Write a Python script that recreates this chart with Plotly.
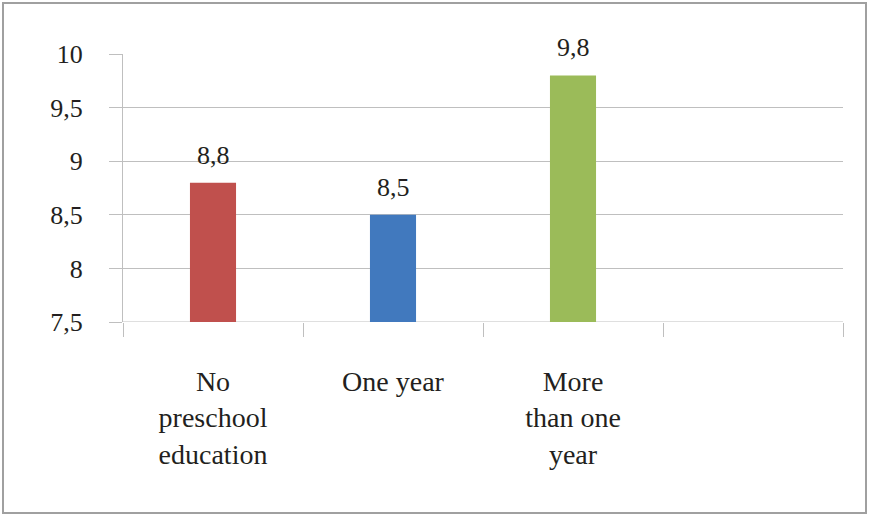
import plotly.graph_objects as go

categories = ["No<br>preschool<br>education", "One year", "More<br>than one<br>year", " "]
values = [8.8, 8.5, 9.8, None]
labels = ["8,8", "8,5", "9,8", ""]
bar_colors = ["#C0504D", "#4179BE", "#9BBB59", "#FFFFFF"]
y_ticks = [7.5, 8, 8.5, 9, 9.5, 10]
y_ticktext = ["7,5", "8", "8,5", "9", "9,5", "10"]

FONT = "'Liberation Serif', 'Times New Roman', 'DejaVu Serif', serif"
TXT = "#231F20"
GRID = "#BFBFBF"

fig = go.Figure(go.Bar(
    x=categories, y=values,
    marker=dict(color=bar_colors, line=dict(width=0)),
    width=0.256, hoverinfo="skip",
))

for c, v, t in zip(categories, values, labels):
    if v is None:
        continue
    fig.add_annotation(x=c, y=v, text=t, showarrow=False, yanchor="bottom",
                       yshift=11, font=dict(family=FONT, size=26, color=TXT))

L, R, T, B = 123, 26, 54, 194
W, H = 869, 516
pw, ph = W - L - R, H - T - B

fig.update_layout(
    width=W, height=H,
    margin=dict(l=L, r=R, t=T, b=B),
    paper_bgcolor="white", plot_bgcolor="white",
    showlegend=False,
    font=dict(family=FONT, color=TXT),
    xaxis=dict(
        type="category", tickson="boundaries", ticks="outside", ticklen=14,
        tickcolor=GRID, tickwidth=1, showgrid=False, showline=False,
        zeroline=False, tickfont=dict(family=FONT, size=28, color=TXT),
        ticklabelstandoff=40, range=[-0.5, 3.5],
    ),
    yaxis=dict(
        range=[7.5, 10], tickvals=y_ticks, ticktext=y_ticktext,
        ticks="outside", ticklen=13, tickcolor=GRID, tickwidth=1,
        showgrid=True, gridcolor=GRID, gridwidth=1,
        showline=True, linecolor=GRID, linewidth=1, zeroline=False,
        tickfont=dict(family=FONT, size=26, color=TXT),
        ticklabelstandoff=21,
    ),
    shapes=[
        dict(type="line", xref="paper", yref="y", x0=0, x1=1, y0=7.5, y1=7.5,
             line=dict(color=GRID, width=1), layer="below"),
        dict(type="rect", xref="paper", yref="paper",
             x0=(3 - L) / pw, x1=(866 - L) / pw,
             y0=(T + ph - 513) / ph, y1=(T + ph - 3) / ph,
             line=dict(color="#A0A0A0", width=2), fillcolor="rgba(0,0,0,0)"),
    ],
)

fig.write_html("out.html")
